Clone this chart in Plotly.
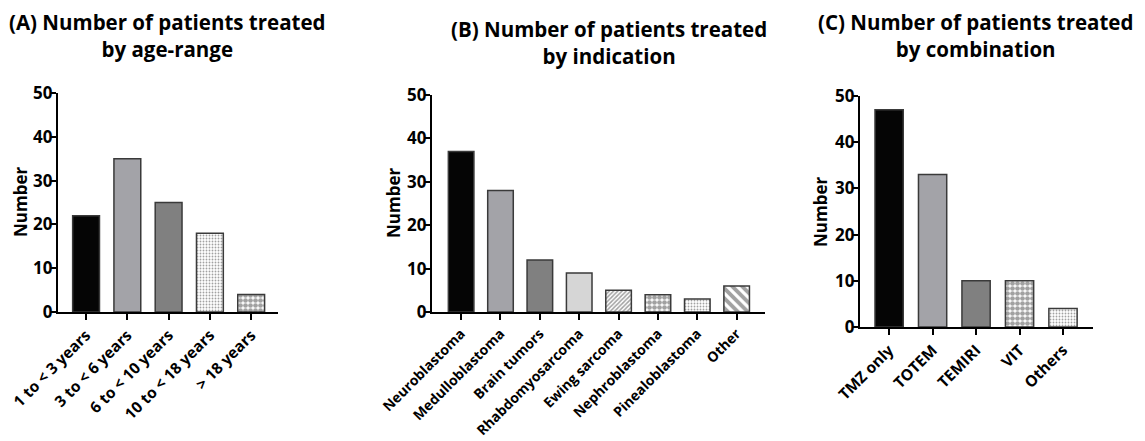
import plotly.graph_objects as go

# Panel A: age ranges
age_labels = ["1 to < 3 years", "3 to < 6 years", "6 to < 10 years", "10 to < 18 years", "> 18 years"]
age_counts = [22, 35, 25, 18, 4]

# Panel B: indications
ind_labels = ["Neuroblastoma", "Medulloblastoma", "Brain tumors", "Rhabdomyosarcoma",
              "Ewing sarcoma", "Nephroblastoma", "Pinealoblastoma", "Other"]
ind_counts = [37, 28, 12, 9, 5, 4, 3, 6]

# Panel C: combinations
comb_labels = ["TMZ only", "TOTEM", "TEMIRI", "VIT", "Others"]
comb_counts = [47, 33, 10, 10, 4]

y_ticks = [0, 10, 20, 30, 40, 50]

FONT = "Open Sans"
BLACK = "#000000"
OUTLINE = "#3a3a3a"

# fill styles: (solid colour, pattern shape, pattern fg, pattern size, solidity)
STYLE = {
    "black":   ("#050505", "", BLACK, 4, 0.3),
    "lgray":   ("#a3a3a8", "", BLACK, 4, 0.3),
    "mgray":   ("#808080", "", BLACK, 4, 0.3),
    "pale":    ("#d6d6d6", "", BLACK, 4, 0.3),
    "dots":    ("#ffffff", ".", "#b0b0b0", 3, 0.3),
    "checker": ("#ffffff", ".", "#000000", 5, 0.7),
    "fine":    ("#ffffff", "/", "#444444", 3, 0.5),
    "stripes": ("#ffffff", "\\", "#000000", 7, 0.55),
}

age_styles = ["black", "lgray", "mgray", "dots", "checker"]
ind_styles = ["black", "lgray", "mgray", "pale", "fine", "checker", "dots", "stripes"]
comb_styles = ["black", "lgray", "mgray", "checker", "dots"]


def bar_trace(labels, values, styles, xa, ya):
    return go.Bar(
        x=labels, y=values, xaxis=xa, yaxis=ya, width=0.65,
        marker=dict(
            color=[STYLE[s][0] for s in styles],
            line=dict(color=OUTLINE, width=1.5),
            pattern=dict(
                shape=[STYLE[s][1] for s in styles],
                bgcolor=[STYLE[s][0] for s in styles],
                fgcolor=[STYLE[s][2] for s in styles],
                size=[STYLE[s][3] for s in styles],
                solidity=[STYLE[s][4] for s in styles],
                fillmode="overlay",
            ),
        ),
        showlegend=False, hoverinfo="x+y",
    )


fig = go.Figure()
fig.add_trace(bar_trace(age_labels, age_counts, age_styles, "x", "y"))
fig.add_trace(bar_trace(ind_labels, ind_counts, ind_styles, "x2", "y2"))
fig.add_trace(bar_trace(comb_labels, comb_counts, comb_styles, "x3", "y3"))

W, H = 1145, 441


def xdom(a, b):
    return [a / W, b / W]


def ydom(bottom, top):
    return [(H - bottom) / H, (H - top) / H]


axis_common = dict(
    showline=True, linecolor=BLACK, linewidth=2.2, showgrid=False, zeroline=False,
    ticks="outside", ticklen=6, tickwidth=2, tickcolor=BLACK, automargin=False,
    tickfont=dict(family=FONT, size=15.5, color=BLACK, weight="bold"),
)
yaxis_common = dict(axis_common, range=[0, 50], tickvals=y_ticks, ticklabelstandoff=-6,
                    tickfont=dict(family=FONT, size=17, color=BLACK, weight="bold"))

panels = [
    # x domain px, y px (bottom, top), x range, axis suffix, x tick font size
    ((58, 278), (312, 93), [-0.68, 4.65], "", 15.5),
    ((432, 765), (312, 95), [-0.74, 7.72], "2", 14),
    ((860, 1093), (327, 96), [-0.67, 4.69], "3", 15.5),
]

layout_axes = {}
for (xa, xb), (yb, yt), xr, sfx, fs in panels:
    layout_axes["xaxis" + sfx] = dict(axis_common, domain=xdom(xa, xb), range=xr,
                                      anchor="y" + sfx, tickangle=-45,
                                      tickfont=dict(family=FONT, size=fs, color=BLACK,
                                                    weight="bold"))
    layout_axes["yaxis" + sfx] = dict(yaxis_common, domain=ydom(yb, yt), anchor="x" + sfx)

fig.update_layout(**layout_axes)

titles = [
    ("(A) Number of patients treated<br>by age-range", 168, 36),
    ("(B) Number of patients treated<br>by indication", 609, 42),
    ("(C) Number of patients treated<br>by combination", 975, 36),
]
annotations = []
for text, cx, cy in titles:
    annotations.append(dict(
        text=text, x=cx / W, y=(H - cy) / H, xref="paper", yref="paper",
        xanchor="center", yanchor="middle", showarrow=False, align="center",
        font=dict(family=FONT, size=20.5, color=BLACK, weight="bold"),
    ))

for cx, cy in [(20, 202), (393, 203), (820, 212)]:
    annotations.append(dict(
        text="Number", x=cx / W, y=(H - cy) / H, xref="paper", yref="paper",
        xanchor="center", yanchor="middle", showarrow=False, textangle=-90,
        font=dict(family=FONT, size=17, color=BLACK, weight="bold"),
    ))

fig.update_layout(
    width=W, height=H, margin=dict(l=0, r=0, t=0, b=0, autoexpand=False),
    paper_bgcolor="white", plot_bgcolor="white",
    annotations=annotations, bargap=0.35,
)

fig.write_html("out.html")
